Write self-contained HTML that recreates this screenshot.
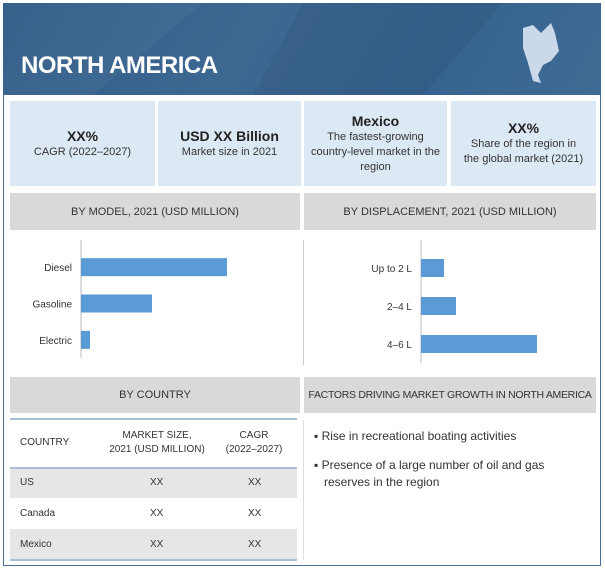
<!DOCTYPE html>
<html><head><meta charset="utf-8"><style>
body{margin:0;width:605px;height:570px;background:#fff;font-family:"Liberation Sans",sans-serif;overflow:hidden;position:relative}
div{box-sizing:border-box}
.abs{position:absolute}
.kpi{position:absolute;top:101px;height:85px;background:#dce8f4;text-align:center;color:#333;font-size:11px;display:flex;flex-direction:column;justify-content:center;line-height:15px}
.kpi b{font-size:14px;color:#222;line-height:17px}
.hdr{position:absolute;background:#d9d9d9;color:#333;font-size:11px;display:flex;align-items:center;justify-content:center;white-space:nowrap}
.cell{position:absolute;font-size:10px;color:#333}
</style></head><body>
<div class="abs" style="left:3px;top:3px;width:598px;height:563px;border:1px solid #4a6f96"></div>
<div class="abs" style="left:3px;top:3px;width:598px;height:92px;background:linear-gradient(120deg,#2f5b88 0%,#3d6892 40%,#35628f 70%,#406b95 100%)">
 <svg width="598" height="92" style="position:absolute;left:0;top:0"><polygon points="0,0 200,0 90,92 0,92" fill="#ffffff" opacity="0.04"/><polygon points="300,0 500,0 420,92 250,92" fill="#000" opacity="0.05"/>
 <path d="M520,25 L530,22 L538,30 L548,20 L552,30 L556,48 L548,58 L540,62 L535,72 L538,80 L530,78 L525,60 L520,45 Z" fill="#c9d9ea"/></svg>
 <div class="abs" style="left:18px;top:49px;color:#fff;font-weight:bold;font-size:24px;letter-spacing:-0.5px">NORTH AMERICA</div>
</div>
<div class="kpi" style="left:10px;width:145px"><b>XX%</b>CAGR (2022–2027)</div>
<div class="kpi" style="left:158px;width:143px"><b>USD XX Billion</b>Market size in 2021</div>
<div class="kpi" style="left:304px;width:143px"><b>Mexico</b>The fastest-growing<br>country-level market in the<br>region</div>
<div class="kpi" style="left:451px;width:145px"><b>XX%</b>Share of the region in<br>the global market (2021)</div>
<div class="hdr" style="left:10px;top:193px;width:290px;height:37px">BY MODEL, 2021 (USD MILLION)</div>
<div class="hdr" style="left:304px;top:193px;width:292px;height:37px">BY DISPLACEMENT, 2021 (USD MILLION)</div>
<div class="abs" style="left:303px;top:240px;width:1px;height:125px;background:#ccc"></div>
<svg id="c1" class="abs" style="left:0;top:240px" width="300" height="130"></svg>
<svg id="c2" class="abs" style="left:304px;top:240px" width="296" height="130"></svg>
<div class="hdr" style="left:10px;top:377px;width:290px;height:36px">BY COUNTRY</div>
<div class="hdr" style="left:304px;top:377px;width:292px;height:36px;font-size:10.5px;letter-spacing:-0.3px">FACTORS DRIVING MARKET GROWTH IN NORTH AMERICA</div>
<div class="abs" style="left:10px;top:418px;width:287px;height:2px;background:#a9bfd6"></div>
<div class="cell" style="left:20px;top:437px">COUNTRY</div>
<div class="cell" style="left:97px;top:429px;width:120px;text-align:center;line-height:14px">MARKET SIZE,<br>2021 (USD MILLION)</div>
<div class="cell" style="left:214px;top:429px;width:80px;text-align:center;line-height:14px">CAGR<br>(2022–2027)</div>
<div class="abs" style="left:10px;top:467px;width:287px;height:2px;background:#a9bfd6"></div>
<div class="abs" style="left:10px;top:469px;width:287px;height:29px;background:#e6e6e6"></div>
<div class="abs" style="left:10px;top:529px;width:287px;height:30px;background:#e6e6e6"></div>
<div class="abs" style="left:10px;top:559px;width:287px;height:2px;background:#a9bfd6"></div>
<div class="cell" style="left:20px;top:477px">US</div><div class="cell" style="left:150px;top:477px">XX</div><div class="cell" style="left:248px;top:477px">XX</div>
<div class="cell" style="left:20px;top:508px">Canada</div><div class="cell" style="left:150px;top:508px">XX</div><div class="cell" style="left:248px;top:508px">XX</div>
<div class="cell" style="left:20px;top:539px">Mexico</div><div class="cell" style="left:150px;top:539px">XX</div><div class="cell" style="left:248px;top:539px">XX</div>
<div class="abs" style="left:303px;top:420px;width:1px;height:140px;background:#ddd"></div>
<div class="abs" style="left:314px;top:429px;font-size:12px;color:#333">▪ Rise in recreational boating activities</div>
<div class="abs" style="left:314px;top:457px;font-size:12px;color:#333;line-height:17px">▪ Presence of a large number of oil and gas<br>&nbsp;&nbsp;&nbsp;reserves in the region</div>
<script>
const modelCats=["Diesel","Gasoline","Electric"];
const modelVals=[146,71,9];
const dispCats=["Up to 2 L","2–4 L","4–6 L"];
const dispVals=[23,35,116];
const NS="http://www.w3.org/2000/svg";
function draw(id,cats,vals,ax,y0,yTop,yBot,max,w){
 const s=document.getElementById(id);
 const xs=v=>ax+v/max*w;
 const step=(yBot-yTop)/cats.length;
 const l=document.createElementNS(NS,'line');
 l.setAttribute('x1',ax);l.setAttribute('x2',ax);l.setAttribute('y1',yTop-10);l.setAttribute('y2',yBot);l.setAttribute('stroke','#bbb');
 
 
 s.appendChild(l);
 cats.forEach((c,i)=>{
  const cy=yTop+step*i+step/2;
  const r=document.createElementNS(NS,'rect');
  r.setAttribute('x',ax);r.setAttribute('y',cy-9);r.setAttribute('height',18);r.setAttribute('width',xs(vals[i])-ax);r.setAttribute('fill','#5b9bd5');
  
  
  s.appendChild(r);
  const t=document.createElementNS(NS,'text');
  t.setAttribute('x',ax-9);t.setAttribute('y',cy+4);t.setAttribute('text-anchor','end');t.setAttribute('font-size','10');t.setAttribute('fill','#333');
  t.setAttribute('font-family','Liberation Sans, sans-serif');
  t.textContent=c;
  
  
  s.appendChild(t);
 });
}
draw('c1',modelCats,modelVals,81,0,9,118,146,146);
draw('c2',dispCats,dispVals,117,0,9,123,116,116);
</script>
</body></html>
